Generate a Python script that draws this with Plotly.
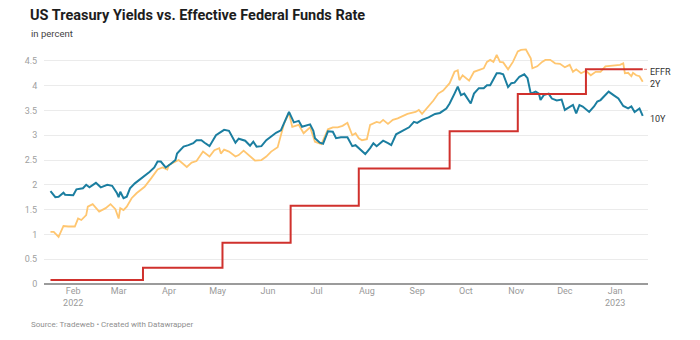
import plotly.graph_objects as go

# ---------------- data ----------------
dates_10y = [
    "2022-01-18","2022-01-19","2022-01-21","2022-01-23","2022-01-26","2022-01-27",
    "2022-02-01","2022-02-03","2022-02-07","2022-02-09","2022-02-11","2022-02-15",
    "2022-02-18","2022-02-22","2022-02-25","2022-02-28","2022-03-01","2022-03-02",
    "2022-03-04","2022-03-06","2022-03-08","2022-03-11","2022-03-15","2022-03-17",
    "2022-03-20","2022-03-23","2022-03-25","2022-03-27","2022-03-30","2022-04-02",
    "2022-04-05","2022-04-06","2022-04-10","2022-04-13","2022-04-16","2022-04-18",
    "2022-04-21","2022-04-23","2022-04-26","2022-04-30","2022-05-05","2022-05-08",
    "2022-05-12","2022-05-14","2022-05-18","2022-05-21","2022-05-23","2022-05-25",
    "2022-05-28","2022-05-31","2022-06-06","2022-06-09","2022-06-14","2022-06-17",
    "2022-06-20","2022-06-22","2022-06-27","2022-06-29","2022-06-30","2022-07-03",
    "2022-07-05","2022-07-08","2022-07-11","2022-07-13","2022-07-16","2022-07-20",
    "2022-07-23","2022-07-25","2022-07-28","2022-07-31","2022-08-03","2022-08-05",
    "2022-08-07","2022-08-11","2022-08-14","2022-08-16","2022-08-19","2022-08-24",
    "2022-08-27","2022-08-30","2022-09-01","2022-09-04","2022-09-08","2022-09-12",
    "2022-09-15","2022-09-19","2022-09-21","2022-09-24","2022-09-26","2022-09-28",
    "2022-09-30","2022-10-04","2022-10-06","2022-10-09","2022-10-12","2022-10-14",
    "2022-10-16","2022-10-20","2022-10-22","2022-10-24","2022-10-27","2022-10-29",
    "2022-10-31","2022-11-03","2022-11-06","2022-11-08","2022-11-10","2022-11-13",
    "2022-11-15","2022-11-16","2022-11-18","2022-11-21","2022-11-23","2022-11-26",
    "2022-11-29","2022-12-01","2022-12-04","2022-12-06","2022-12-08","2022-12-10",
    "2022-12-12","2022-12-16","2022-12-19","2022-12-21","2022-12-23","2022-12-26",
    "2022-12-28","2022-12-31","2023-01-03","2023-01-06","2023-01-09","2023-01-11",
    "2023-01-13","2023-01-16","2023-01-18",
]
yield_10y = [
    1.875,1.83,1.75,1.76,1.84,1.80,
    1.79,1.91,1.93,2.00,1.95,2.04,
    1.95,2.00,1.98,1.83,1.75,1.86,
    1.73,1.76,1.93,2.03,2.13,2.18,
    2.26,2.35,2.47,2.47,2.35,2.42,
    2.50,2.63,2.77,2.80,2.84,2.90,
    2.90,2.85,2.78,3.00,3.11,3.09,
    2.85,2.93,2.89,2.79,2.87,2.77,
    2.78,2.90,3.05,3.10,3.47,3.26,
    3.29,3.17,3.22,3.09,2.94,2.85,
    2.83,3.08,3.07,2.94,2.96,2.96,
    2.78,2.80,2.70,2.62,2.74,2.84,
    2.78,2.89,2.84,2.80,3.02,3.10,
    3.16,3.27,3.25,3.31,3.36,3.43,
    3.45,3.54,3.64,3.84,3.98,3.81,
    3.84,3.64,3.84,3.95,3.95,4.01,
    4.01,4.25,4.25,4.23,3.97,4.05,
    4.06,4.18,4.23,4.15,3.84,3.88,
    3.84,3.71,3.81,3.84,3.74,3.70,
    3.72,3.51,3.58,3.61,3.44,3.61,
    3.58,3.47,3.58,3.68,3.71,3.81,
    3.88,3.81,3.74,3.59,3.54,3.58,
    3.47,3.54,3.39,
]

dates_2y = [
    "2022-01-18","2022-01-20","2022-01-23","2022-01-26","2022-01-29","2022-02-02",
    "2022-02-04","2022-02-06","2022-02-09","2022-02-10","2022-02-13","2022-02-17",
    "2022-02-21","2022-02-24","2022-02-27","2022-03-01","2022-03-02","2022-03-04",
    "2022-03-06","2022-03-09","2022-03-12","2022-03-17","2022-03-21","2022-03-25",
    "2022-03-28","2022-03-31","2022-04-01","2022-04-05","2022-04-07","2022-04-12",
    "2022-04-15","2022-04-18","2022-04-20","2022-04-22","2022-04-26","2022-04-29",
    "2022-05-02","2022-05-03","2022-05-05","2022-05-08","2022-05-12","2022-05-14",
    "2022-05-17","2022-05-20","2022-05-24","2022-05-28","2022-05-31","2022-06-03",
    "2022-06-07","2022-06-11","2022-06-14","2022-06-16","2022-06-20","2022-06-23",
    "2022-06-27","2022-06-30","2022-07-04","2022-07-08","2022-07-11","2022-07-14",
    "2022-07-17","2022-07-20","2022-07-23","2022-07-25","2022-07-27","2022-07-29",
    "2022-08-01","2022-08-03","2022-08-05","2022-08-07","2022-08-09","2022-08-11",
    "2022-08-14","2022-08-17","2022-08-20","2022-08-23","2022-08-26","2022-08-31",
    "2022-09-02","2022-09-04","2022-09-08","2022-09-11","2022-09-14","2022-09-17",
    "2022-09-21","2022-09-24","2022-09-26","2022-09-27","2022-09-29","2022-10-03",
    "2022-10-06","2022-10-09","2022-10-12","2022-10-14","2022-10-16","2022-10-18",
    "2022-10-20","2022-10-22","2022-10-24","2022-10-27","2022-10-30","2022-11-02",
    "2022-11-04","2022-11-07","2022-11-10","2022-11-11","2022-11-14","2022-11-17",
    "2022-11-19","2022-11-22","2022-11-25","2022-11-28","2022-12-01","2022-12-04",
    "2022-12-06","2022-12-08","2022-12-11","2022-12-14","2022-12-17","2022-12-20",
    "2022-12-23","2022-12-26","2022-12-29","2023-01-01","2023-01-04","2023-01-06",
    "2023-01-07","2023-01-09","2023-01-11","2023-01-12","2023-01-14","2023-01-16",
    "2023-01-18",
]
yield_2y = [
    1.05,1.05,0.95,1.17,1.16,1.16,
    1.32,1.29,1.39,1.56,1.61,1.46,
    1.53,1.61,1.51,1.32,1.53,1.49,
    1.56,1.73,1.83,1.96,2.13,2.31,
    2.35,2.31,2.40,2.47,2.50,2.36,
    2.45,2.48,2.57,2.67,2.57,2.70,
    2.74,2.63,2.71,2.67,2.57,2.60,
    2.69,2.60,2.49,2.50,2.57,2.67,
    2.76,3.24,3.45,3.17,3.21,3.04,
    3.16,2.87,2.82,3.12,3.16,3.16,
    3.19,3.25,3.00,3.04,2.94,2.90,
    2.92,3.21,3.24,3.27,3.25,3.31,
    3.23,3.31,3.34,3.39,3.43,3.47,
    3.51,3.43,3.58,3.70,3.84,3.90,
    4.05,4.28,4.31,4.11,4.21,4.10,
    4.28,4.31,4.35,4.48,4.52,4.48,
    4.62,4.48,4.47,4.33,4.48,4.69,
    4.72,4.73,4.55,4.35,4.39,4.48,
    4.52,4.52,4.45,4.44,4.37,4.42,
    4.28,4.33,4.25,4.30,4.21,4.28,
    4.28,4.39,4.40,4.40,4.42,4.45,
    4.25,4.26,4.19,4.26,4.21,4.19,
    4.08,
]

dates_effr = ["2022-01-18","2022-03-16","2022-05-04","2022-06-15","2022-07-27",
              "2022-09-21","2022-11-02","2022-12-14","2023-01-18"]
rate_effr = [0.08, 0.33, 0.83, 1.58, 2.33, 3.08, 3.83, 4.33, 4.33]

tick_dates = ["2022-02-01","2022-03-01","2022-04-01","2022-05-01","2022-06-01",
              "2022-07-01","2022-08-01","2022-09-01","2022-10-01","2022-11-01",
              "2022-12-01","2023-01-01"]
tick_labels = ["Feb<br>2022","Mar","Apr","May","Jun","Jul","Aug","Sep","Oct",
               "Nov","Dec","Jan<br>2023"]
y_ticks = [0, 0.5, 1, 1.5, 2, 2.5, 3, 3.5, 4, 4.5]
y_labels = ["0", "0.5", "1", "1.5", "2", "2.5", "3", "3.5", "4", "4.5"]

title = "US Treasury Yields vs. Effective Federal Funds Rate"
subtitle = "in percent"
footer = "Source: Tradeweb • Created with Datawrapper"

# ---------------- layout geometry (pixels) ----------------
W, H = 700, 340
L, R, T, B = 44, 52, 46, 56
PW, PH = W - L - R, H - T - B

def px(xp):
    return (xp - L) / PW

def py(yp):
    return (H - B - yp) / PH

C10 = "#1b7ea0"
C2 = "#ffc670"
CE = "#d0312d"
FONT = "Roboto"

fig = go.Figure()
fig.add_trace(go.Scatter(x=dates_2y, y=yield_2y, mode="lines",
                         line=dict(color=C2, width=1.8), name="2Y"))
fig.add_trace(go.Scatter(x=dates_10y, y=yield_10y, mode="lines",
                         line=dict(color=C10, width=2), name="10Y"))
fig.add_trace(go.Scatter(x=dates_effr, y=rate_effr, mode="lines",
                         line=dict(color=CE, width=2, shape="hv"), name="EFFR"))

fig.update_layout(
    width=W, height=H,
    margin=dict(l=L, r=R, t=T, b=B),
    paper_bgcolor="white", plot_bgcolor="white",
    showlegend=False,
    font=dict(family=FONT, size=9, color="#9a9a9a"),
    xaxis=dict(
        type="date",
        range=["2022-01-14", "2023-01-21 06:00"],
        tickvals=tick_dates, ticktext=tick_labels,
        showgrid=False, zeroline=False, showline=False,
        ticks="", 
        tickfont=dict(family=FONT, size=9, color="#9a9a9a"),
        fixedrange=True,
    ),
    yaxis=dict(
        range=[0, 4.8],
        tickvals=y_ticks, ticktext=y_labels,
        showgrid=True, gridcolor="#ebebeb", gridwidth=1,
        zeroline=True, zerolinecolor="#9b9b9b", zerolinewidth=2,
        showline=False,
        ticks="outside", ticklen=4, tickcolor="rgba(0,0,0,0)",
        tickfont=dict(family=FONT, size=9, color="#a0a0a0"),
        fixedrange=True,
    ),
)

fig.add_shape(type="line", xref="paper", yref="y",
              x0=px(644), x1=px(648), y0=rate_effr[-1], y1=rate_effr[-1],
              line=dict(color=CE, width=1, dash="dot"), opacity=0.6)

ann = [
    dict(text="<b>" + title + "</b>", x=px(28), y=py(15),
         font=dict(family=FONT, size=14.5, color="#1d1d1d")),
    dict(text=subtitle, x=px(29), y=py(34),
         font=dict(family=FONT, size=9.5, color="#444444")),
    dict(text=footer, x=px(29), y=py(324),
         font=dict(family=FONT, size=8, color="#8f8f8f")),
    dict(text="EFFR", x=px(648), y=py(72),
         font=dict(family=FONT, size=9, color="#333333")),
    dict(text="2Y", x=px(648), y=py(84),
         font=dict(family=FONT, size=9, color="#333333")),
    dict(text="10Y", x=px(648), y=py(119),
         font=dict(family=FONT, size=9, color="#333333")),
]
for a in ann:
    fig.add_annotation(xref="paper", yref="paper", xanchor="left", yanchor="middle",
                       showarrow=False, **a)

fig.write_html("out.html")
